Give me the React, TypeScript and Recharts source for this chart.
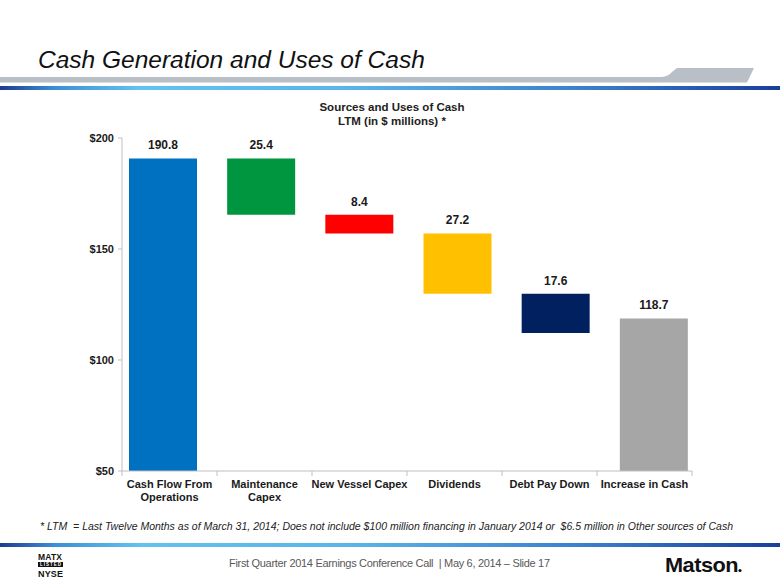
import React from "react";
import {
  BarChart,
  Bar,
  XAxis,
  YAxis,
  Cell,
  LabelList,
} from "recharts";

const FONT = '"Liberation Sans", Arial, Helvetica, sans-serif';

// waterfall data ($ millions)
const categories = [
  "Cash Flow From\nOperations",
  "Maintenance\nCapex",
  "New Vessel Capex",
  "Dividends",
  "Debt Pay Down",
  "Increase in Cash",
];
const amounts = [190.8, 25.4, 8.4, 27.2, 17.6, 118.7];
const barLows = [0, 165.4, 157.0, 129.8, 112.2, 0];
const barHighs = [190.8, 190.8, 165.4, 157.0, 129.8, 118.7];
const barColors = ["#0070C0", "#00953F", "#FF0000", "#FFC000", "#002060", "#A6A6A6"];
const yTicks = [50, 100, 150, 200];

const data = categories.map((name, i) => ({
  name,
  amount: amounts[i],
  range: [barLows[i], barHighs[i]],
}));

// plot box on the page
const PLOT_LEFT = 122;
const PLOT_RIGHT = 692;
const PLOT_TOP = 138;
const PLOT_BOTTOM = 471;
const X_AXIS_H = 40;
const BAND = (PLOT_RIGHT - PLOT_LEFT) / categories.length;

function CategoryTick(props: any) {
  const { x, y, payload, index } = props;
  const lines = String(payload.value).split("\n");
  const left = x - BAND / 2;
  return (
    <g>
      <line x1={left} y1={y} x2={left} y2={y + 5} stroke="#bfbfbf" />
      {index === categories.length - 1 && (
        <line x1={x + BAND / 2} y1={y} x2={x + BAND / 2} y2={y + 5} stroke="#bfbfbf" />
      )}
      <text
        x={x}
        y={y + 17}
        textAnchor="middle"
        fill="#1a1a1a"
        fontSize={11}
        fontWeight="bold"
        fontFamily={FONT}
      >
        {lines.map((l, i) => (
          <tspan key={i} x={x} dy={i === 0 ? 0 : 12.5}>
            {l}
          </tspan>
        ))}
      </text>
    </g>
  );
}

function BlueRule({ y, id }: { y: number; id: string }) {
  return (
    <>
      <defs>
        <linearGradient id={id} x1="0" y1="0" x2="1" y2="0">
          <stop offset="0" stopColor="#1b3c8f" />
          <stop offset="0.07" stopColor="#3c8fd6" />
          <stop offset="0.18" stopColor="#62c2f0" />
          <stop offset="0.45" stopColor="#5ab4ea" />
          <stop offset="0.75" stopColor="#3a7fcc" />
          <stop offset="1" stopColor="#1a3f9a" />
        </linearGradient>
      </defs>
      <rect x={0} y={y} width={780} height={4} fill={`url(#${id})`} />
    </>
  );
}

export default function App() {
  return (
    <div
      style={{
        position: "absolute",
        left: 0,
        top: 0,
        width: 780,
        height: 585,
        background: "#fff",
        overflow: "hidden",
        fontFamily: FONT,
      }}
    >
      <svg
        width={780}
        height={585}
        style={{ position: "absolute", left: 0, top: 0 }}
      >
        {/* header */}
        <text x={38} y={68} fontSize={24.5} fontStyle="italic" fill="#111" fontFamily={FONT}>
          Cash Generation and Uses of Cash
        </text>
        <path
          d="M0,77 L660,77 Q668,77 672,72 L677,68 L754,68 L747,82.5 L0,82.5 Z"
          fill="#b8bfc7"
        />
        <BlueRule y={86} id="ruleTop" />

        {/* chart title */}
        <text x={392} y={111} textAnchor="middle" fontSize={11.5} fontWeight="bold" fill="#222" fontFamily={FONT}>
          Sources and Uses of Cash
        </text>
        <text x={392} y={124.5} textAnchor="middle" fontSize={11.5} fontWeight="bold" fill="#222" fontFamily={FONT}>
          LTM (in $ millions) *
        </text>

        {/* footnote */}
        <text
          x={40}
          y={530}
          fontSize={10.5}
          fontStyle="italic"
          fill="#222"
          fontFamily={FONT}
          textLength={693}
          lengthAdjust="spacing"
          xmlSpace="preserve"
          style={{ whiteSpace: "pre" }}
        >
          {"* LTM  = Last Twelve Months as of March 31, 2014; Does not include $100 million financing in January 2014 or  $6.5 million in Other sources of Cash"}
        </text>
        <BlueRule y={543} id="ruleBottom" />

        {/* footer */}
        <text x={38} y={560} fontSize={8.5} fontWeight="bold" fill="#111" fontFamily={FONT} textLength={24}>
          MATX
        </text>
        <rect x={38} y={562} width={25} height={5} fill="#111" />
        <text x={40} y={566.3} fontSize={4.5} fontWeight="bold" fill="#fff" fontFamily={FONT} textLength={21}>
          LISTED
        </text>
        <text x={38} y={577} fontSize={9} fontWeight="bold" fill="#111" fontFamily={FONT} textLength={25}>
          NYSE
        </text>
        <text
          x={229}
          y={567}
          fontSize={11}
          fill="#595959"
          fontFamily={FONT}
          textLength={321}
          lengthAdjust="spacing"
          xmlSpace="preserve"
          style={{ whiteSpace: "pre" }}
        >
          {"First Quarter 2014 Earnings Conference Call  | May 6, 2014 – Slide 17"}
        </text>
        <text x={665} y={572} fontSize={21} fontWeight="bold" fill="#111" fontFamily={FONT} textLength={73} lengthAdjust="spacingAndGlyphs" letterSpacing={-0.5}>
          Matson
        </text>
        <circle cx={740} cy={570.5} r={1.6} fill="#111" />
      </svg>

      <div style={{ position: "absolute", left: 0, top: 0 }}>
        <BarChart
          width={780}
          height={585}
          data={data}
          margin={{
            top: PLOT_TOP,
            right: 780 - PLOT_RIGHT,
            bottom: 585 - PLOT_BOTTOM - X_AXIS_H,
            left: 0,
          }}
        >
          <XAxis
            xAxisId="labels"
            dataKey="name"
            interval={0}
            height={X_AXIS_H}
            tickLine={false}
            tickSize={0}
            tickMargin={0}
            axisLine={{ stroke: "#bfbfbf" }}
            tick={<CategoryTick />}
          />
          {/* bars sit a little wider apart than the category slots */}
          <XAxis
            xAxisId="bars"
            dataKey="name"
            hide
            height={0}
            padding={{ left: -8, right: -11 }}
          />
          <YAxis
            width={PLOT_LEFT}
            domain={[50, 200]}
            ticks={yTicks}
            allowDataOverflow
            tickSize={4}
            tickMargin={4}
            axisLine={{ stroke: "#bfbfbf" }}
            tickLine={{ stroke: "#bfbfbf" }}
            tickFormatter={(v: number) => `$${v}`}
            tick={{ fill: "#1a1a1a", fontSize: 11, fontWeight: "bold", fontFamily: FONT }}
          />
          <Bar xAxisId="bars" dataKey="range" barSize={68} isAnimationActive={false}>
            {data.map((d, i) => (
              <Cell key={d.name} fill={barColors[i]} />
            ))}
            <LabelList
              dataKey="amount"
              position="top"
              offset={9}
              fill="#1a1a1a"
              fontSize={12}
              fontWeight="bold"
              fontFamily={FONT}
            />
          </Bar>
        </BarChart>
      </div>
    </div>
  );
}
